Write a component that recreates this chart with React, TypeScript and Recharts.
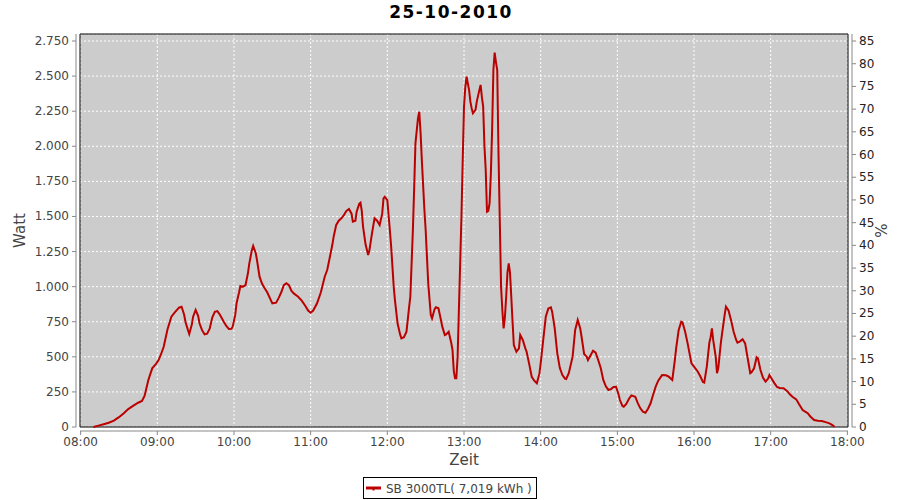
import { LineChart, Line, XAxis, YAxis, CartesianGrid, ReferenceArea, Label } from 'recharts';

// minutes after 08:00 and the power reading (W) at that moment
const minutes = [
  10, 14, 18, 22, 26, 30, 34, 37, 41, 45, 48, 50, 53, 56, 59, 61, 63, 65, 68, 71,
  74, 77, 79, 81, 82, 84, 85, 87, 88, 90, 92, 93, 95, 97, 99, 101, 103, 105, 107, 109,
  112, 114, 116, 118, 119, 121, 122, 124, 125, 127, 129, 131, 132, 134, 135, 137, 138, 140, 142, 144,
  146, 149, 150, 153, 155, 157, 159, 161, 163, 165, 167, 170, 173, 176, 178, 180, 182, 185, 188, 191,
  193, 195, 197, 198, 200, 202, 204, 206, 208, 210, 212, 213, 215, 216, 218, 219, 220, 221, 223, 225,
  226, 228, 230, 232, 234, 236, 237, 238, 240, 242, 243, 245, 246, 248, 250, 251, 253, 255, 257, 258,
  260, 261, 262, 264, 265, 266, 267, 269, 270, 272, 274, 275, 277, 278, 280, 282, 283, 285, 286, 288,
  290, 291, 292, 293, 294, 295, 296, 298, 299, 300, 301, 302, 304, 305, 306, 307, 309, 310, 312, 313,
  314, 315, 316, 317, 318, 319, 320, 321, 322, 323, 324, 325, 326, 327, 328, 329, 330, 331, 332, 333,
  334, 335, 336, 337, 338, 339, 341, 343, 344, 346, 348, 349, 351, 353, 355, 357, 359, 360, 362, 364,
  366, 368, 369, 371, 373, 375, 377, 379, 380, 382, 385, 387, 389, 391, 392, 394, 396, 397, 399, 401,
  403, 405, 407, 409, 411, 413, 415, 417, 419, 421, 422, 424, 425, 427, 429, 431, 434, 436, 438, 440,
  442, 444, 446, 448, 450, 452, 455, 458, 460, 463, 465, 466, 468, 470, 471, 473, 475, 477, 478, 480,
  483, 485, 487, 488, 490, 492, 493, 494, 495, 497, 498, 499, 501, 502, 504, 505, 507, 509, 511, 513,
  514, 516, 518, 520, 522, 524, 525, 527, 529, 530, 532, 534, 536, 538, 539, 541, 543, 545, 547, 550,
  553, 555, 557, 560, 562, 565, 567, 569, 571, 574, 577, 580, 583, 586, 588, 590,
];
const watts = [
  0, 10, 20, 30, 45, 70, 100, 126, 150, 173, 185, 221, 335, 418, 450, 477, 520, 572, 696, 786,
  820, 850, 857, 800, 750, 690, 663, 730, 786, 834, 790, 739, 690, 660, 665, 700, 780, 820, 826, 800,
  750, 720, 698, 700, 715, 800, 881, 960, 1005, 1000, 1010, 1100, 1166, 1260, 1290, 1240, 1190, 1071, 1020, 988,
  960, 900, 881, 886, 920, 960, 1010, 1024, 1010, 970, 950, 930, 900, 860, 830, 814, 830, 881, 960, 1071,
  1120, 1209, 1300, 1356, 1440, 1470, 1487, 1510, 1540, 1553, 1520, 1463, 1470, 1534, 1590, 1598, 1540, 1427, 1300, 1225,
  1260, 1380, 1487, 1470, 1439, 1520, 1629, 1640, 1617, 1400, 1285, 1000, 900, 739, 660, 632, 640, 679, 850, 928,
  1404, 1700, 2021, 2200, 2246, 2100, 1902, 1550, 1404, 1024, 800, 774, 840, 853, 846, 760, 715, 655, 660, 679,
  600, 549, 400, 347, 347, 500, 834, 1500, 1900, 2282, 2420, 2496, 2400, 2318, 2270, 2235, 2260, 2318, 2400, 2437,
  2350, 2282, 2000, 1831, 1534, 1540, 1594, 1800, 2116, 2544, 2667, 2600, 2544, 1950, 1475, 1000, 834, 703, 780, 928,
  1100, 1166, 1100, 928, 750, 584, 536, 560, 655, 620, 560, 536, 450, 358, 330, 311, 380, 454, 620, 786,
  845, 853, 820, 703, 525, 420, 370, 345, 342, 383, 501, 691, 762, 700, 643, 520, 501, 477, 510, 544,
  530, 477, 420, 335, 290, 264, 270, 285, 287, 230, 192, 150, 145, 165, 200, 225, 216, 170, 133, 110,
  102, 130, 169, 230, 287, 330, 370, 368, 360, 335, 477, 560, 691, 750, 745, 680, 596, 500, 454, 430,
  394, 360, 320, 316, 430, 600, 640, 703, 620, 500, 383, 420, 600, 668, 800, 857, 830, 760, 679, 620,
  601, 610, 625, 596, 490, 383, 390, 418, 497, 490, 406, 350, 323, 345, 370, 340, 311, 285, 278, 276,
  255, 233, 215, 197, 165, 121, 110, 98, 75, 50, 45, 43, 35, 26, 15, 2,
];

const timeTicks = [480, 540, 600, 660, 720, 780, 840, 900, 960, 1020, 1080];
const wattTicks = [0, 250, 500, 750, 1000, 1250, 1500, 1750, 2000, 2250, 2500, 2750];
const percentTicks = [0, 5, 10, 15, 20, 25, 30, 35, 40, 45, 50, 55, 60, 65, 70, 75, 80, 85];

const title = '25-10-2010';
const seriesName = 'SB 3000TL( 7,019 kWh )';

const data = minutes.map((m, i) => ({ minute: 480 + m, watt: watts[i] }));

const W = 900;
const H = 500;
const PLOT_TOP = 34;
const PLOT_BOTTOM = 427;
const PLOT_LEFT = 80;
const PLOT_RIGHT = 848;
const LINE_COLOR = '#bb0000';
const AXIS_COLOR = '#888888';
const FONT = '"DejaVu Sans", sans-serif';

const fmtWatt = (v: number) => String(v).replace(/\B(?=(\d{3})+(?!\d))/g, '.');
const fmtTime = (m: number) => `${String(Math.floor(m / 60)).padStart(2, '0')}:${String(m % 60).padStart(2, '0')}`;

function LeftTick({ x, y, payload, index }: any) {
  return (
    <g>
      {index === 0 && <line x1={x - 4} x2={x - 4} y1={PLOT_TOP} y2={PLOT_BOTTOM} stroke={AXIS_COLOR} />}
      <line x1={x - 4} x2={x - 8} y1={y} y2={y} stroke={AXIS_COLOR} />
      <text x={x - 11} y={y + 4} textAnchor="end" fill="#444" fontSize={12} fontFamily={FONT}>
        {fmtWatt(payload.value)}
      </text>
    </g>
  );
}

function RightTick({ x, y, payload, index }: any) {
  return (
    <g>
      {index === 0 && <line x1={x + 4} x2={x + 4} y1={PLOT_TOP} y2={PLOT_BOTTOM} stroke={AXIS_COLOR} />}
      <line x1={x + 4} x2={x + 8} y1={y} y2={y} stroke={AXIS_COLOR} />
      <text x={x + 11} y={y + 4} textAnchor="start" fill="#222" fontSize={12} fontFamily={FONT}>
        {payload.value}
      </text>
    </g>
  );
}

function BottomTick({ x, y, payload, index }: any) {
  return (
    <g>
      {index === 0 && <line x1={PLOT_LEFT} x2={PLOT_RIGHT} y1={y + 4} y2={y + 4} stroke={AXIS_COLOR} />}
      <line x1={x} x2={x} y1={y + 4} y2={y + 8} stroke={AXIS_COLOR} />
      <text x={x} y={y + 19} textAnchor="middle" fill="#444" fontSize={12} fontFamily={FONT}>
        {fmtTime(payload.value)}
      </text>
    </g>
  );
}

export default function App() {
  return (
    <div style={{ position: 'absolute', left: 0, top: 0, width: W, height: H, background: '#fff' }}>
      <LineChart
        width={W}
        height={H}
        data={data}
        margin={{ top: PLOT_TOP, right: 0, left: 0, bottom: H - PLOT_BOTTOM - 40 }}
      >
        <CartesianGrid
          yAxisId="w"
          fill="#cccccc"
          stroke="#ffffff"
          strokeDasharray="2 2"
        />
        <XAxis
          dataKey="minute"
          type="number"
          domain={[479.5, 1080.5]}
          ticks={timeTicks}
          interval={0}
          height={40}
          tickSize={0}
          tickMargin={0}
          axisLine={false}
          tickLine={false}
          tick={<BottomTick />}
        >
          <Label
            content={({ viewBox }: any) => (
              <text x={viewBox.x + viewBox.width / 2} y={465} textAnchor="middle" fill="#444" fontSize={15} fontFamily={FONT}>
                Zeit
              </text>
            )}
          />
        </XAxis>
        <YAxis
          yAxisId="w"
          orientation="left"
          width={PLOT_LEFT}
          domain={[0, 2800]}
          ticks={wattTicks}
          interval={0}
          tickSize={0}
          tickMargin={0}
          axisLine={false}
          tickLine={false}
          tick={<LeftTick />}
        >
          <Label
            content={({ viewBox }: any) => {
              const cy = viewBox.y + viewBox.height / 2;
              return (
                <text x={25} y={cy} transform={`rotate(-90 25 ${cy})`} textAnchor="middle" fill="#444" fontSize={15} fontFamily={FONT}>
                  Watt
                </text>
              );
            }}
          />
        </YAxis>
        <YAxis
          yAxisId="p"
          orientation="right"
          width={W - PLOT_RIGHT}
          domain={[0, 2800 / (2750 / 85)]}
          ticks={percentTicks}
          interval={0}
          tickSize={0}
          tickMargin={0}
          axisLine={false}
          tickLine={false}
          tick={<RightTick />}
          allowDataOverflow
        >
          <Label
            content={({ viewBox }: any) => {
              const cy = viewBox.y + viewBox.height / 2;
              return (
                <text x={887} y={cy} transform={`rotate(-90 887 ${cy})`} textAnchor="middle" fill="#444" fontSize={15} fontFamily={FONT}>
                  %
                </text>
              );
            }}
          />
        </YAxis>
        <ReferenceArea
          yAxisId="w"
          x1={479.5}
          x2={1080.5}
          y1={0}
          y2={2800}
          fill="none"
          fillOpacity={0}
          stroke="#000"
          strokeWidth={1}
          ifOverflow="visible"
        />
        <Line
          yAxisId="w"
          type="linear"
          dataKey="watt"
          name={seriesName}
          stroke={LINE_COLOR}
          strokeWidth={2}
          dot={false}
          isAnimationActive={false}
        />
      </LineChart>
      <svg
        width={W}
        height={H}
        style={{ position: 'absolute', left: 0, top: 0, pointerEvents: 'none' }}
      >
        <text x={451} y={18} textAnchor="middle" fontWeight="bold" fontSize={17} letterSpacing={1.5} fill="#000" fontFamily={FONT}>
          {title}
        </text>
        <rect x={363.5} y={477.5} width={173} height={21} fill="#fff" stroke="#000" />
        <line x1={366} x2={381} y1={488} y2={488} stroke={LINE_COLOR} strokeWidth={3} />
        <line x1={373.5} x2={373.5} y1={488} y2={490.5} stroke={LINE_COLOR} strokeWidth={2} />
        <text x={386} y={492.5} fill="#444" fontSize={12} fontFamily={FONT}>
          {seriesName}
        </text>
      </svg>
    </div>
  );
}
